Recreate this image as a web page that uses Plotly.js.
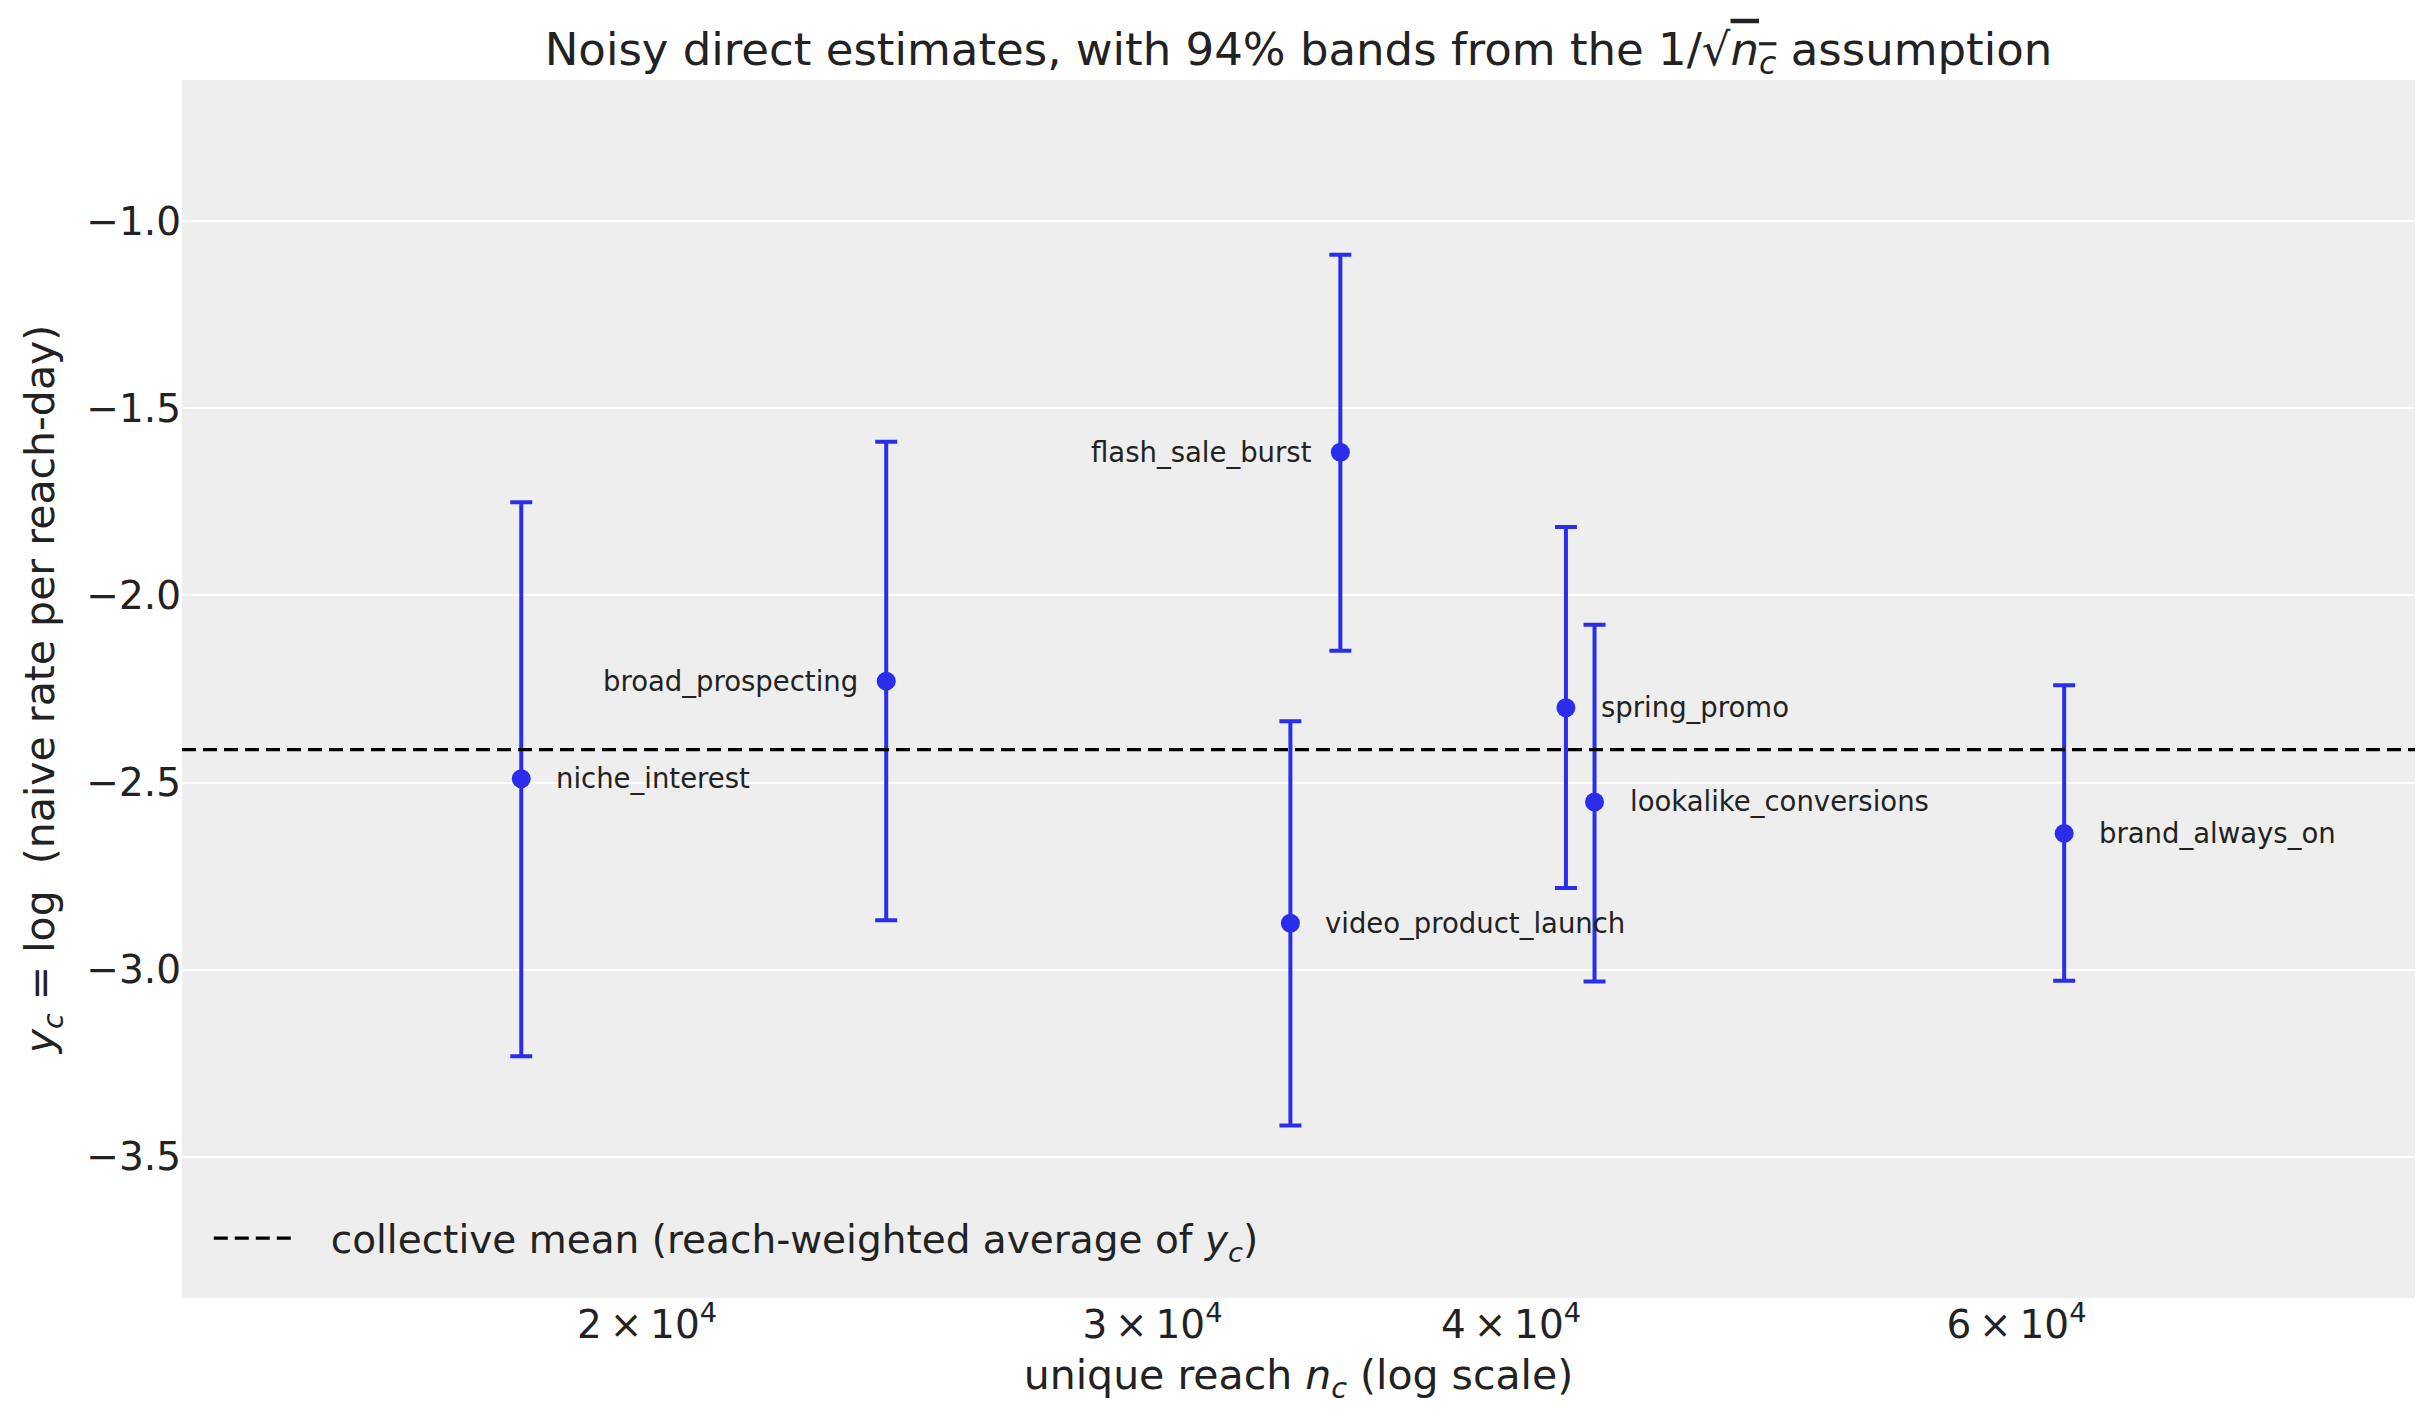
<!DOCTYPE html>
<html>
<head>
<meta charset="utf-8">
<script src="https://cdn.plot.ly/plotly-3.0.1.min.js"></script>
<style>
  html, body { margin: 0; padding: 0; background: #ffffff; }
  #grafico { width: 2423px; height: 1423px; }
</style>
</head>
<body>
<div id="grafico"></div>
<script>
// Estimaciones directas por campaña

let campanas = ["niche_interest", "broad_prospecting", "video_product_launch",
                "flash_sale_burst", "spring_promo", "lookalike_conversions",
                "brand_always_on"];

// alcance único n_c
let alcance = [18080, 24230, 33510, 34880, 41800, 42770, 62340];

// y_c = log(tasa ingenua)
let y_c = [-2.490, -2.229, -2.876, -1.617, -2.300, -2.552, -2.636];

// extremos de las bandas del 94%
let banda_sup = [-1.751, -1.589, -2.336, -1.089, -1.817, -2.078, -2.240];
let banda_inf = [-3.232, -2.868, -3.417, -2.148, -2.782, -3.032, -3.030];

// media colectiva (ponderada por alcance)
let media_colectiva = -2.412;

// marcas del eje x
let ticks_x = [20000, 30000, 40000, 60000];
let ticks_x_texto = ["2\u2009×\u200910<sup>4</sup>", "3\u2009×\u200910<sup>4</sup>",
                     "4\u2009×\u200910<sup>4</sup>", "6\u2009×\u200910<sup>4</sup>"];

// lado de cada etiqueta respecto a su punto
let lado_etiqueta = ["right", "left", "right", "left", "right", "right", "right"];


let azul = "#2a2eec";
let fuente = "DejaVu Sans";
let color_texto = "#222222";

let err_arriba = banda_sup.map((v, i) => v - y_c[i]);
let err_abajo  = banda_inf.map((v, i) => y_c[i] - v);

let puntos = {
  type: "scatter",
  mode: "markers",
  x: alcance,
  y: y_c,
  showlegend: false,
  hoverinfo: "skip",
  marker: { color: azul, size: 19 },
  error_y: {
    type: "data",
    symmetric: false,
    array: err_arriba,
    arrayminus: err_abajo,
    color: azul,
    thickness: 4,
    width: 11
  }
};

let etiquetas = campanas.map((nombre, i) => ({
  x: Math.log10(alcance[i]),
  y: y_c[i],
  xref: "x",
  yref: "y",
  text: nombre,
  showarrow: false,
  xanchor: lado_etiqueta[i] === "right" ? "left" : "right",
  yanchor: "middle",
  xshift: lado_etiqueta[i] === "right" ? 33 : -26,
  font: { family: fuente, size: 27.5, color: color_texto }
}));

let layout = {
  width: 2423,
  height: 1423,
  paper_bgcolor: "#ffffff",
  plot_bgcolor: "#eeeeee",
  margin: { l: 182, r: 8, t: 80, b: 125 },
  font: { family: fuente, color: color_texto },
  title: {
    text: 'Noisy direct estimates, with 94% bands from the 1/√<span style="text-decoration:overline"><i>n</i><sub><i>c</i></sub></span> assumption',
    font: { family: fuente, size: 45, color: color_texto },
    xref: "paper",
    x: 0.5,
    xanchor: "center",
    yref: "container",
    y: 1 - 49 / 1423,
    yanchor: "middle"
  },
  xaxis: {
    type: "log",
    range: [4.1390, 4.9170],
    tickvals: ticks_x,
    ticktext: ticks_x_texto,
    showgrid: false,
    zeroline: false,
    showline: false,
    ticks: "",
    tickfont: { family: fuente, size: 39, color: color_texto },
    title: {
      text: "unique reach <i>n</i><sub><i>c</i></sub> (log scale)",
      font: { family: fuente, size: 41, color: color_texto },
      standoff: 14
    }
  },
  yaxis: {
    range: [-3.878, -0.622],
    tick0: -1.0,
    dtick: 0.5,
    tickformat: ".1f",
    showgrid: true,
    gridcolor: "#ffffff",
    gridwidth: 2,
    zeroline: false,
    showline: false,
    ticks: "",
    tickfont: { family: fuente, size: 39, color: color_texto },
    title: {
      text: "<i>y</i><sub><i>c</i></sub> = log\u00a0 (naive rate per reach-day)",
      font: { family: fuente, size: 41, color: color_texto },
      standoff: 18
    }
  },
  shapes: [{
    type: "line",
    xref: "paper",
    yref: "y",
    x0: 0,
    x1: 1,
    y0: media_colectiva,
    y1: media_colectiva,
    line: { color: "#000000", width: 3.2, dash: "14px,7px" },
    showlegend: true,
    name: "\u2002\u00a0collective mean (reach-weighted average of <i>y</i><sub><i>c</i></sub>)"
  }],
  annotations: etiquetas,
  showlegend: true,
  legend: {
    x: 0.012,
    y: 0.049,
    xanchor: "left",
    yanchor: "middle",
    itemwidth: 80,
    bgcolor: "rgba(0,0,0,0)",
    borderwidth: 0,
    font: { family: fuente, size: 39, color: color_texto }
  }
};

let config = { displayModeBar: false, responsive: false, staticPlot: true };

Plotly.newPlot("grafico", [puntos], layout, config);
</script>
</body>
</html>
